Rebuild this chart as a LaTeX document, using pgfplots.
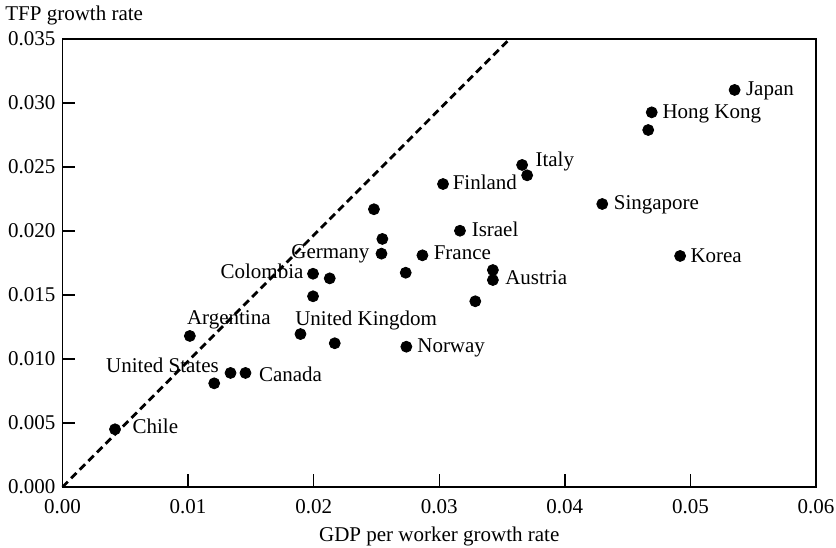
\documentclass[border=0pt]{standalone}
\usepackage{pgfplots}
\pgfplotsset{compat=1.18}
\usepackage{fontspec}
\setmainfont{Liberation Serif}
\begin{document}
\begin{tikzpicture}[font=\fontsize{10.5bp}{12.6bp}\selectfont]
\useasboundingbox (-31.25bp,-30.5bp) rectangle (386.75bp,243.5bp);
\begin{axis}[
  at={(0,0)}, anchor=south west,
  scale only axis, width=376.75bp, height=224bp,
  xmin=0, xmax=0.06, ymin=0, ymax=0.035,
  xtick={0,0.01,0.02,0.03,0.04,0.05,0.06},
  ytick={0,0.005,0.01,0.015,0.02,0.025,0.03,0.035},
  scaled ticks=false,
  tick align=inside, xtick pos=bottom, ytick pos=left,
  major tick length=6.5bp,
  axis line style={line width=0.8bp},
  every tick/.style={line width=0.7bp, black},
  /pgf/number format/assume math mode=true,
  xticklabel style={yshift=-2.5bp, /pgf/number format/.cd, fixed, fixed zerofill, precision=2},
  yticklabel style={/pgf/number format/.cd, fixed, fixed zerofill, precision=3},
  xlabel={GDP per worker growth rate},
  xlabel style={at={(axis description cs:0.5,0)}, anchor=base, yshift=-27bp, inner sep=0pt},
  ylabel={TFP growth rate},
  ylabel style={rotate=-90, at={(axis description cs:0,1)}, anchor=base west, xshift=-28.75bp, yshift=9bp, inner sep=0pt},
  clip=false,
]
\addplot[black, line width=1.4bp, dash pattern=on 3.8bp off 2.3bp] coordinates {(0,0) (0.0356,0.035)};
\addplot[only marks, mark=*, mark size=2.75bp, black] table {
x y
0.00418 0.00451
0.01208 0.00810
0.01338 0.00891
0.01457 0.00891
0.01014 0.01180
0.01895 0.01195
0.02168 0.01123
0.01995 0.01490
0.01995 0.01666
0.02128 0.01630
0.02540 0.01823
0.02547 0.01938
0.02480 0.02170
0.02733 0.01674
0.02866 0.01810
0.02738 0.01096
0.03030 0.02367
0.03165 0.02002
0.03287 0.01451
0.03427 0.01695
0.03427 0.01617
0.03660 0.02516
0.03700 0.02435
0.04298 0.02211
0.04692 0.02927
0.04664 0.02789
0.04918 0.01805
0.05352 0.03102
};
\begin{scope}[every node/.style={inner sep=0pt}]
\node[anchor=base west, xshift=5.5bp, yshift=-3bp] at (axis cs:0.05352,0.03102) {Japan};
\node[anchor=base west, xshift=5.2bp, yshift=-3.3bp] at (axis cs:0.04692,0.02927) {Hong Kong};
\node[anchor=base west, xshift=6.5bp, yshift=-0.8bp] at (axis cs:0.03660,0.02516) {Italy};
\node[anchor=base west, xshift=5.6bp, yshift=-3bp] at (axis cs:0.04298,0.02211) {Singapore};
\node[anchor=base west, xshift=5bp, yshift=-3.3bp] at (axis cs:0.04918,0.01805) {Korea};
\node[anchor=base west, xshift=6bp, yshift=-2bp] at (axis cs:0.03427,0.01617) {Austria};
\node[anchor=base west, xshift=4.7bp, yshift=-2.6bp] at (axis cs:0.03030,0.02367) {Finland};
\node[anchor=base west, xshift=5.7bp, yshift=-3bp] at (axis cs:0.03165,0.02002) {Israel};
\node[anchor=base west, xshift=5.5bp, yshift=-2.3bp] at (axis cs:0.02866,0.01810) {France};
\node[anchor=base east, xshift=-5.8bp, yshift=-2.6bp] at (axis cs:0.02540,0.01823) {Germany};
\node[anchor=base east, xshift=-4.6bp, yshift=-2.3bp] at (axis cs:0.01995,0.01666) {Colombia};
\node[anchor=base west, xshift=-2.8bp, yshift=4.5bp] at (axis cs:0.01895,0.01195) {United Kingdom};
\node[anchor=base west, xshift=5.3bp, yshift=-3bp] at (axis cs:0.02738,0.01096) {Norway};
\node[anchor=base west, xshift=-1.6bp, yshift=5.5bp] at (axis cs:0.01014,0.01180) {Argentina};
\node[anchor=base east, xshift=2.5bp, yshift=5.3bp] at (axis cs:0.01208,0.00810) {United States};
\node[anchor=base west, xshift=6.6bp, yshift=-4.3bp] at (axis cs:0.01457,0.00891) {Canada};
\node[anchor=base west, xshift=8.6bp, yshift=-2bp] at (axis cs:0.00418,0.00451) {Chile};
\end{scope}
\end{axis}
\end{tikzpicture}
\end{document}
